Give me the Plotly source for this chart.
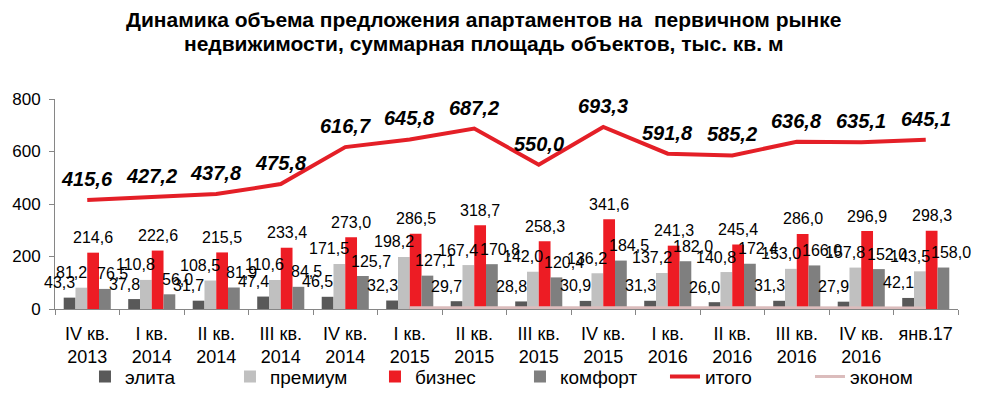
import plotly.graph_objects as go

categories = ["IV кв. 2013", "I кв. 2014", "II кв. 2014", "III кв. 2014", "IV кв. 2014",
              "I кв. 2015", "II кв. 2015", "III кв. 2015", "IV кв. 2015",
              "I кв. 2016", "II кв. 2016", "III кв. 2016", "IV кв. 2016", "янв.17"]
tick_labels = ["IV кв.<br>2013", "I кв.<br>2014", "II кв.<br>2014", "III кв.<br>2014", "IV кв.<br>2014",
               "I кв.<br>2015", "II кв.<br>2015", "III кв.<br>2015", "IV кв.<br>2015",
               "I кв.<br>2016", "II кв.<br>2016", "III кв.<br>2016", "IV кв.<br>2016", "янв.17<br> "]

elita = [43.3, 37.8, 31.7, 47.4, 46.5, 32.3, 29.7, 28.8, 30.9, 31.3, 26.0, 31.3, 27.9, 42.1]
premium = [81.2, 110.8, 108.5, 110.6, 171.5, 198.2, 167.4, 142.0, 136.2, 137.2, 140.8, 153.0, 157.8, 143.5]
business = [214.6, 222.6, 215.5, 233.4, 273.0, 286.5, 318.7, 258.3, 341.6, 241.3, 245.4, 286.0, 296.9, 298.3]
comfort = [76.5, 56.0, 81.9, 84.5, 125.7, 127.1, 170.8, 120.4, 184.5, 182.0, 172.4, 166.0, 152.0, 158.0]
total = [415.6, 427.2, 437.8, 475.8, 616.7, 645.8, 687.2, 550.0, 693.3, 591.8, 585.2, 636.8, 635.1, 645.1]
econom = [None, None, None, None, None, 4.9, 4.6, 4.4, 4.1, 4.3, 4.0, 3.8, 3.9, 4.2]

title_lines = ["Динамика объема предложения апартаментов на  первичном рынке",
               "недвижимости, суммарная площадь объектов, тыс. кв. м"]

FONT = "Liberation Sans, Arial, sans-serif"
# the page body adds an 8px offset, so the figure is sized to fit the window
W, H = 976, 386
ML, MR, MT, MB = 47, 25.5, 91, 84.7
BARGAP = 0.27
plot_w = W - ML - MR
plot_h = H - MT - MB


def fmt(v):
    return f"{v:.1f}".replace(".", ",")


def px_to_paper_y(py):
    return (H - MB - py) / plot_h


def px_to_paper_x(px):
    return (px - ML) / plot_w


fig = go.Figure()

bar_series = [
    ("элита", elita, "#595959", -10),
    ("премиум", premium, "#c0c0c0", -10),
    ("бизнес", business, "#ed1c24", 0),
    ("комфорт", comfort, "#7f7f7f", 8),
]
for name, vals, color, _ in bar_series:
    fig.add_trace(go.Bar(x=categories, y=vals, name=name, marker=dict(color=color, line=dict(width=0))))

fig.add_trace(go.Scatter(x=categories, y=total, name="итого", mode="lines",
                         line=dict(color="#e41f27", width=4)))
fig.add_trace(go.Scatter(x=categories, y=econom, name="эконом", mode="lines",
                         line=dict(color="#dbbcbc", width=3)))

# bar label annotations
group_w = plot_w / len(categories)
bar_w = group_w * (1 - BARGAP) / len(bar_series)
for j, (name, vals, color, dx) in enumerate(bar_series):
    off = (j - (len(bar_series) - 1) / 2) * bar_w
    for c, v in zip(categories, vals):
        fig.add_annotation(x=c, y=v, text=fmt(v), showarrow=False,
                           xshift=off + dx, yshift=15, yanchor="middle",
                           font=dict(family=FONT, size=16, color="#000"))

for c, v in zip(categories, total):
    fig.add_annotation(x=c, y=v, text=f"<b><i>{fmt(v)}</i></b>", showarrow=False,
                       yshift=21, yanchor="middle",
                       font=dict(family=FONT, size=20, color="#000"))

# title as two lines
for line, py in zip(title_lines, [11, 35]):
    fig.add_annotation(xref="paper", yref="paper", x=px_to_paper_x(476), y=px_to_paper_y(py),
                       xanchor="center", yanchor="middle", showarrow=False,
                       text=f"<b>{line}</b>",
                       font=dict(family=FONT, size=21, color="#000"))

fig.update_layout(
    width=W, height=H,
    margin=dict(l=ML, r=MR, t=MT, b=MB, autoexpand=False),
    paper_bgcolor="white", plot_bgcolor="white",
    barmode="group", bargap=BARGAP, bargroupgap=0,
    font=dict(family=FONT, color="#000"),
    xaxis=dict(type="category", tickvals=categories, ticktext=tick_labels, tickangle=0,
               range=[-0.5, len(categories) - 0.5], autorange=False,
               showline=True, linecolor="#868686", linewidth=1,
               ticks="outside", tickson="boundaries", ticklen=5, tickcolor="#868686",
               showgrid=False, automargin=False, ticklabelstandoff=8,
               tickfont=dict(family=FONT, size=18, color="#000")),
    yaxis=dict(range=[0, 800], autorange=False, dtick=200, showline=True, linecolor="#868686", linewidth=1,
               ticks="outside", ticklen=5, tickcolor="#868686", showgrid=False, zeroline=False,
               automargin=False,
               tickfont=dict(family=FONT, size=17, color="#000"), ticklabelstandoff=5),
    legend=dict(orientation="h", x=px_to_paper_x(77), xanchor="left", y=px_to_paper_y(369), yanchor="middle",
                font=dict(family=FONT, size=19, color="#000"), entrywidth=100,
                traceorder="normal", bgcolor="rgba(0,0,0,0)"),
    showlegend=True,
)

fig.write_html("out.html")
